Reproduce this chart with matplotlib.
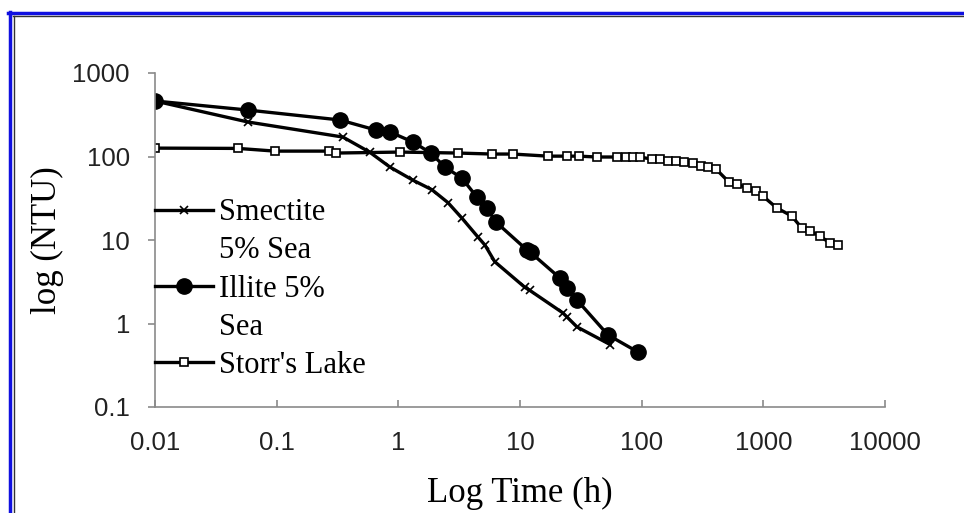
import matplotlib
matplotlib.use("Agg")
import matplotlib.pyplot as plt
from matplotlib.lines import Line2D
from matplotlib.ticker import FixedLocator, FixedFormatter, NullLocator

# Data
smectite_t = [0.01, 0.058, 0.35, 0.58, 0.85, 1.32, 1.89, 2.56, 3.33, 4.5, 5.15,
              6.2, 11, 12, 22.5, 24.3, 29.4, 55]
smectite_ntu = [462, 259, 171, 113, 75, 52, 40, 28, 18.3, 10.9, 8.7,
                5.5, 2.7, 2.5, 1.34, 1.2, 0.91, 0.56]

illite_t = [0.01, 0.058, 0.33, 0.65, 0.85, 1.32, 1.85, 2.41, 3.33, 4.42, 5.35,
            6.34, 11.4, 12.2, 21.3, 24.3, 29.4, 52.8, 93]
illite_ntu = [462, 360, 274, 208, 197, 149, 110, 75, 55, 32.7, 24,
              16.4, 7.6, 7.1, 3.5, 2.66, 1.91, 0.73, 0.456]

storr_t = [0.01, 0.048, 0.097, 0.27, 0.31, 1.03, 3.09, 5.9, 8.75, 16.9, 24.3,
           30.5, 42.8, 62.5, 74, 84.7, 96.6, 121, 141, 164, 191, 222, 264,
           306, 350, 407, 521, 606, 732, 868, 990, 1290, 1710, 2070, 2410,
           2910, 3520, 4090]
storr_ntu = [126, 125, 116, 116, 110, 113, 110, 107, 107, 101, 101,
             101, 98.6, 98.6, 98.6, 98.6, 98.6, 93, 93, 88, 88, 86, 83.6,
             77, 75, 71, 49.5, 46.9, 42, 38.6, 33.6, 24.2, 19.4, 13.9, 12.8,
             11.2, 9.2, 8.7]

x_ticks = [0.01, 0.1, 1, 10, 100, 1000, 10000]
x_tick_labels = ["0.01", "0.1", "1", "10", "100", "1000", "10000"]
y_ticks = [0.1, 1, 10, 100, 1000]
y_tick_labels = ["0.1", "1", "10", "100", "1000"]

serif = ["Liberation Serif", "DejaVu Serif"]
sans = ["Liberation Sans", "DejaVu Sans"]

fig = plt.figure(figsize=(9.64, 5.13), dpi=100)
ax = fig.add_axes([155 / 964, 1 - 407 / 513, 730 / 964, 334 / 513])

l1, = ax.plot(smectite_t, smectite_ntu, color="black", lw=2.4,
              marker="x", ms=6, mew=1.2)
l2, = ax.plot(illite_t, illite_ntu, color="black", lw=2.4,
              marker="o", ms=11)
l3, = ax.plot(storr_t, storr_ntu, color="black", lw=2.4,
              marker="s", ms=5.5, mfc="white", mec="black", mew=1.2)

ax.set_xscale("log")
ax.set_yscale("log")
ax.set_xlim(0.01, 10000)
ax.set_ylim(0.1, 1000)

ax.xaxis.set_major_locator(FixedLocator(x_ticks))
ax.xaxis.set_major_formatter(FixedFormatter(x_tick_labels))
ax.yaxis.set_major_locator(FixedLocator(y_ticks))
ax.yaxis.set_major_formatter(FixedFormatter(y_tick_labels))
ax.xaxis.set_minor_locator(NullLocator())
ax.yaxis.set_minor_locator(NullLocator())

for s in ["top", "right"]:
    ax.spines[s].set_visible(False)
for s in ["left", "bottom"]:
    ax.spines[s].set_color("#8a8a8a")
    ax.spines[s].set_linewidth(1.2)

ax.tick_params(axis="x", direction="in", length=5, width=1.2, color="#8a8a8a",
               pad=17, labelsize=18.5)
ax.tick_params(axis="y", direction="out", length=5, width=1.2, color="#8a8a8a",
               pad=13, labelsize=18.5)
for lab in ax.get_xticklabels() + ax.get_yticklabels():
    lab.set_fontfamily(sans)
    lab.set_color("#222222")

ax.set_xlabel("Log Time (h)", fontsize=25, family=serif)
ax.set_ylabel("log (NTU)", fontsize=25, family=serif)
ax.xaxis.set_label_coords(0.5, -0.21)
ax.yaxis.set_label_coords(-0.125, 0.5)

blank = Line2D([], [], color="none")
ax.legend([l1, blank, l2, blank, l3],
          ["Smectite", "5% Sea", "Illite 5%", "Sea", "Storr's Lake"],
          loc="upper left", bbox_to_anchor=(0.0, 0.625), frameon=False,
          prop={"family": serif, "size": 22}, handlelength=1.9,
          handletextpad=0.2, labelspacing=0.3, borderpad=0, borderaxespad=0)

# blue frame of the original figure
fig.add_artist(Line2D([8 / 964, 1], [1 - 13 / 513, 1 - 13 / 513],
                      color="#1010e0", lw=2.5))
fig.add_artist(Line2D([10 / 964, 10 / 964], [1 - 12 / 513, 0],
                      color="#1010e0", lw=2.5))
fig.add_artist(Line2D([13 / 964, 1], [1 - 16 / 513, 1 - 16 / 513],
                      color="#333333", lw=1.0))
fig.add_artist(Line2D([14 / 964, 14 / 964], [1 - 16 / 513, 0],
                      color="#333333", lw=1.0))

fig.savefig("out.png", dpi=100)
